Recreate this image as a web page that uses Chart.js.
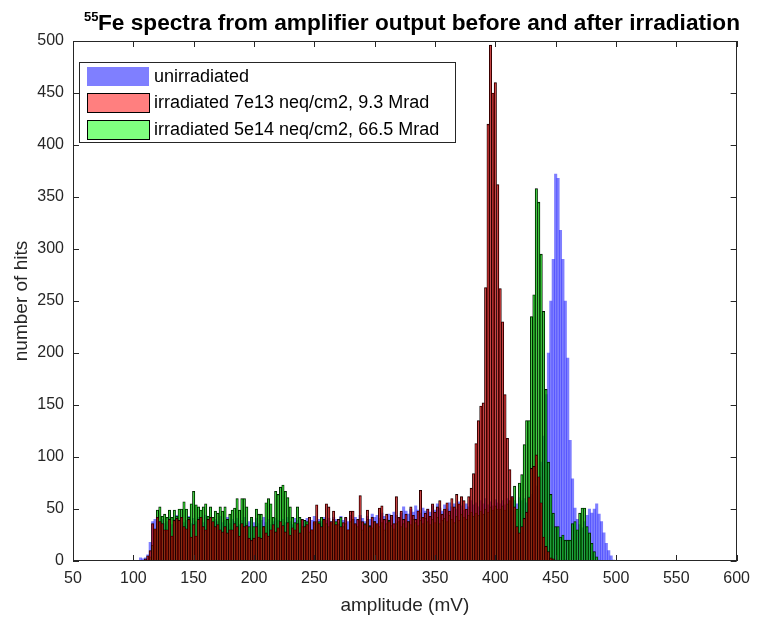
<!DOCTYPE html>
<html>
<head>
<meta charset="utf-8">
<script src="https://cdn.jsdelivr.net/npm/chart.js@4"></script>
<style>
  html, body { margin: 0; padding: 0; background: #fff; }
  canvas { display: block; }
</style>
</head>
<body>
<canvas id="spectra" width="758" height="624"></canvas>
<script>
// histogram bins: 2 mV wide, first bin centred at 104 mV
const binStart = 104;
const binWidth = 2;

const seriesNames = [
    'unirradiated',
    'irradiated 7e13 neq/cm2, 9.3 Mrad',
    'irradiated 5e14 neq/cm2, 66.5 Mrad'
];

// counts per bin, 104 .. 500 mV (10 bins per line)
const unirradiated = [
    0, 3, 2, 3, 6, 18, 38, 40, 42, 38,
    40, 36, 38, 42, 35, 40, 44, 38, 41, 37,
    39, 43, 36, 41, 38, 42, 40, 37, 44, 39,
    41, 36, 40, 38, 43, 37, 39, 42, 36, 40,
    38, 41, 35, 39, 42, 36, 38, 40, 37, 41,
    36, 39, 42, 37, 40, 35, 38, 41, 39, 36,
    40, 37, 42, 38, 35, 41, 39, 36, 40, 38,
    41, 37, 39, 43, 36, 40, 38, 42, 39, 41,
    38, 42, 40, 37, 43, 39, 41, 38, 44, 40,
    42, 39, 44, 41, 38, 43, 40, 45, 42, 44,
    41, 46, 43, 40, 45, 42, 47, 44, 41, 46,
    52, 48, 45, 50, 47, 53, 49, 46, 51, 48,
    50, 47, 53, 49, 55, 51, 48, 54, 50, 56,
    52, 55, 50, 57, 53, 49, 55, 52, 58, 54,
    56, 52, 58, 55, 60, 54, 57, 53, 59, 56,
    55, 58, 54, 60, 57, 62, 58, 55, 61, 58,
    60, 56, 62, 64, 68, 72, 80, 95, 120, 160,
    200, 250, 290, 372, 368, 318, 290, 250, 195, 116,
    79, 51, 40, 35, 32, 38, 44, 50, 46, 50,
    55, 45, 38, 27, 17, 10, 5, 1, 0
];

const irr7e13 = [
    0, 0, 0, 2, 5, 10, 36, 31, 42, 38,
    36, 30, 30, 40, 24, 39, 41, 39, 42, 33,
    31, 40, 23, 35, 24, 40, 42, 33, 30, 40,
    42, 38, 33, 35, 30, 28, 33, 27, 30, 30,
    36, 33, 24, 36, 33, 34, 22, 20, 22, 33,
    23, 22, 33, 27, 24, 30, 35, 28, 32, 38,
    34, 28, 37, 25, 32, 30, 36, 27, 40, 33,
    35, 42, 30, 38, 54, 36, 33, 40, 55, 52,
    38, 48, 35, 40, 33, 37, 42, 30, 48, 48,
    36, 40, 63, 38, 35, 49, 33, 42, 38, 36,
    51, 53, 40, 45, 38, 44, 36, 62, 42, 48,
    40, 45, 38, 52, 44, 40, 48, 68, 42, 46,
    50, 43, 55, 47, 52, 58, 45, 50, 56, 48,
    60, 52, 64, 55, 62, 58, 50, 62, 70, 84,
    113, 135, 149, 152, 263, 420, 496, 450, 460, 362,
    262, 230, 160, 118, 88, 62, 52, 33, 27, 33,
    41, 47, 61, 89, 91, 102, 81, 56, 23, 14,
    9, 3, 2, 1, 1, 0, 0, 1, 0, 0,
    0, 0, 0, 0, 0, 0, 0, 0, 0, 0,
    0, 0, 0, 0, 0, 0, 0, 0, 0
];

const irr5e14 = [
    0, 0, 0, 0, 1, 4, 15, 30, 49, 52,
    43, 45, 42, 49, 42, 49, 43, 50, 50, 57,
    50, 42, 55, 67, 54, 52, 49, 52, 55, 43,
    52, 42, 48, 46, 52, 48, 52, 40, 45, 49,
    51, 60, 49, 60, 60, 52, 33, 42, 33, 50,
    45, 45, 33, 56, 60, 55, 42, 67, 64, 71,
    73, 67, 61, 52, 42, 37, 52, 42, 33, 39,
    38, 28, 30, 36, 38, 38, 42, 40, 36, 33,
    36, 40, 38, 35, 42, 33, 36, 30, 38, 40,
    35, 33, 38, 30, 36, 40, 34, 32, 38, 35,
    33, 37, 30, 36, 39, 34, 31, 36, 38, 33,
    36, 32, 38, 35, 40, 37, 34, 39, 36, 41,
    38, 35, 40, 37, 42, 36, 39, 41, 38, 44,
    40, 37, 43, 39, 45, 42, 40, 44, 47, 43,
    46, 44, 48, 45, 50, 47, 52, 49, 53, 50,
    50, 53, 49, 55, 58, 60, 72, 50, 75, 83,
    112, 135, 135, 235, 256, 358, 345, 295, 240, 165,
    95, 64, 46, 33, 33, 23, 25, 20, 20, 20,
    36, 38, 30, 46, 51, 51, 33, 27, 17, 9,
    4, 1, 0, 0, 0, 0, 0, 0, 0
];

const xTicks = [50, 100, 150, 200, 250, 300, 350, 400, 450, 500, 550, 600];
const yTicks = [0, 50, 100, 150, 200, 250, 300, 350, 400, 450, 500];

const bins = unirradiated.map((_, i) => binStart + i * binWidth);
const toPoints = vals => vals.map((v, i) => ({ x: bins[i], y: v }));

const colors = [
    { fill: 'rgba(0,0,255,0.5)', edge: null },
    { fill: 'rgba(255,0,0,0.5)', edge: '#000' },
    { fill: 'rgba(0,255,0,0.5)', edge: '#000' }
];

const FONT = '"Liberation Sans", Arial, Helvetica, sans-serif';
const INK = '#262626';
Chart.defaults.font.family = FONT;

// box, inward tick marks, title and legend the way MATLAB draws them
const matlabFrame = {
    id: 'matlabFrame',
    afterDraw(chart) {
        const { ctx, chartArea: a, scales: { x, y } } = chart;
        const tl = 6;
        ctx.save();
        ctx.strokeStyle = INK;
        ctx.lineWidth = 1;
        ctx.beginPath();
        xTicks.forEach(v => {
            const px = Math.round(x.getPixelForValue(v)) + 0.5;
            ctx.moveTo(px, a.bottom); ctx.lineTo(px, a.bottom - tl);
            ctx.moveTo(px, a.top); ctx.lineTo(px, a.top + tl);
        });
        yTicks.forEach(v => {
            const py = Math.round(y.getPixelForValue(v)) + 0.5;
            ctx.moveTo(a.left, py); ctx.lineTo(a.left + tl, py);
            ctx.moveTo(a.right, py); ctx.lineTo(a.right - tl, py);
        });
        ctx.stroke();
        ctx.strokeRect(Math.round(a.left) + 0.5, Math.round(a.top) + 0.5,
            Math.round(a.width) - 1, Math.round(a.height) - 1);

        // title with superscript mass number, fitted to the reference width
        ctx.fillStyle = '#000';
        ctx.textBaseline = 'alphabetic';
        const sup = '55', rest = 'Fe spectra from amplifier output before and after irradiation';
        ctx.font = 'bold 13px ' + FONT;
        ctx.fillText(sup, 84, 21);
        ctx.font = 'bold 22px ' + FONT;
        const wRest = ctx.measureText(rest).width;
        ctx.save();
        ctx.translate(98, 30);
        ctx.scale(642 / wRest, 1);
        ctx.fillText(rest, 0, 0);
        ctx.restore();

        // legend box
        const lx = 79, ly = 62, lw = 376, lh = 80;
        ctx.fillStyle = '#fff';
        ctx.fillRect(lx, ly, lw, lh);
        ctx.strokeStyle = INK;
        ctx.strokeRect(lx + 0.5, ly + 0.5, lw, lh);
        ctx.font = '18px ' + FONT;
        ctx.textBaseline = 'middle';
        seriesNames.forEach((name, i) => {
            const cy = 76 + i * 26.5;
            ctx.fillStyle = colors[i].fill;
            ctx.fillRect(87, Math.round(cy - 9.5), 62, 19);
            if (colors[i].edge) {
                ctx.strokeStyle = colors[i].edge;
                ctx.strokeRect(87.5, Math.round(cy - 9.5) + 0.5, 62, 19);
            }
            ctx.fillStyle = '#000';
            ctx.fillText(name, 154, cy + 1);
        });
        ctx.restore();
    }
};

new Chart(document.getElementById('spectra'), {
    type: 'bar',
    data: {
        datasets: [
            {
                label: seriesNames[0],
                data: toPoints(unirradiated),
                backgroundColor: colors[0].fill,
                borderWidth: 0,
                order: 2
            },
            {
                label: seriesNames[1],
                data: toPoints(irr7e13),
                backgroundColor: colors[1].fill,
                borderColor: '#000',
                borderWidth: 0.6,
                order: 0
            },
            {
                label: seriesNames[2],
                data: toPoints(irr5e14),
                backgroundColor: colors[2].fill,
                borderColor: '#000',
                borderWidth: 0.6,
                order: 1
            }
        ]
    },
    options: {
        responsive: false,
        animation: false,
        devicePixelRatio: 1,
        layout: { padding: { top: 41, right: 16, bottom: 0, left: 0 } },
        datasets: {
            bar: { grouped: false, barPercentage: 1, categoryPercentage: 1 }
        },
        plugins: {
            legend: { display: false },
            title: { display: false },
            tooltip: { enabled: false }
        },
        scales: {
            x: {
                type: 'linear',
                min: 50,
                max: 600,
                offset: false,
                grid: { display: false, drawTicks: false },
                border: { display: false },
                afterBuildTicks: s => { s.ticks = xTicks.map(v => ({ value: v })); },
                afterFit: s => { s.height = 63; },
                ticks: { color: INK, font: { size: 16 }, padding: 8, maxRotation: 0 },
                title: {
                    display: true,
                    text: 'amplitude (mV)',
                    color: INK,
                    font: { size: 19 },
                    padding: { top: 0, bottom: 7 }
                }
            },
            y: {
                min: 0,
                max: 500,
                grid: { display: false, drawTicks: false },
                border: { display: false },
                afterBuildTicks: s => { s.ticks = yTicks.map(v => ({ value: v })); },
                afterFit: s => { s.width = 73; },
                ticks: { color: INK, font: { size: 16 }, padding: 9 },
                title: {
                    display: true,
                    text: 'number of hits',
                    color: INK,
                    font: { size: 19 },
                    padding: { top: 10, bottom: 0 }
                }
            }
        }
    },
    plugins: [matlabFrame]
});
</script>
</body>
</html>
